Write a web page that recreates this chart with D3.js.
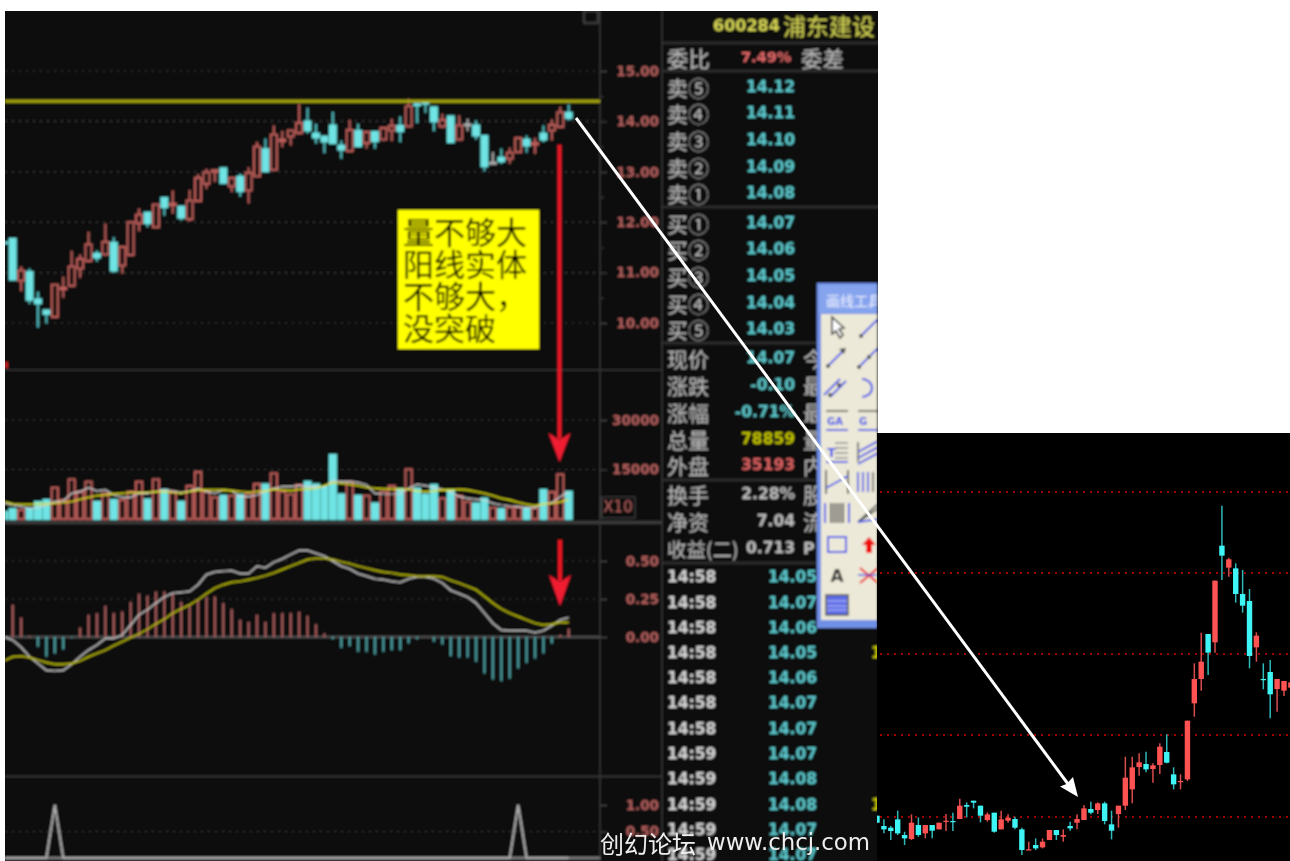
<!DOCTYPE html>
<html><head><meta charset="utf-8">
<script src="https://cdn.jsdelivr.net/npm/d3@7/dist/d3.min.js"></script>
<style>
html,body{margin:0;padding:0;background:#fff;overflow:hidden}
svg{display:block}
text{font-family:"DejaVu Sans",sans-serif}
.cjk{font-family:"Noto Sans CJK SC","Noto Sans",sans-serif}
</style></head><body>
<svg id="c" width="1290" height="861"></svg>
<script>
// ---------- left chart data, index n = -1 .. 66 ----------
const leftOpen=[11.60,11.67,10.84,11.01,10.47,10.25,10.12,10.67,10.74,11.08,11.23,11.37,11.36,11.59,11.14,11.35,11.98,12.19,11.90,12.48,12.34,12.31,12.06,12.42,12.76,13.00,13.07,12.71,12.90,12.63,12.91,13.45,13.04,13.61,13.70,13.77,14.00,13.76,13.70,13.92,13.52,13.41,13.81,13.57,13.79,13.64,13.82,13.91,13.90,14.34,14.40,14.28,13.90,14.10,13.64,13.94,13.92,13.71,13.18,13.28,13.26,13.39,13.64,13.54,13.76,13.82,13.89,14.17];
const leftClose=[11.58,10.86,11.04,10.46,10.39,10.18,10.76,10.70,11.12,11.27,11.56,11.30,11.61,11.04,11.51,12.00,12.15,11.98,12.35,12.30,12.37,12.09,12.43,12.88,12.99,13.03,12.78,12.88,12.62,12.98,13.50,13.01,13.74,13.64,13.82,13.97,13.82,13.68,13.60,13.57,13.44,13.83,13.51,13.79,13.61,13.87,13.91,13.81,14.30,14.32,14.35,14.00,14.03,13.59,13.92,13.94,13.72,13.11,13.18,13.21,13.38,13.67,13.52,13.57,13.64,13.93,14.18,14.07];
const leftHigh=[11.60,11.67,11.12,11.08,10.62,10.25,10.76,10.92,11.43,11.36,11.81,11.44,11.97,11.70,11.51,12.00,12.27,12.19,12.35,12.48,12.63,12.31,12.64,12.95,13.06,13.03,13.07,12.88,12.96,13.09,13.59,13.66,13.92,13.81,13.82,14.35,14.27,13.95,13.70,14.19,13.62,14.03,13.95,13.79,13.79,13.87,14.05,14.10,14.45,14.37,14.40,14.28,14.15,14.10,14.12,14.05,14.02,13.71,13.39,13.46,13.48,13.67,13.72,13.67,13.92,14.04,14.29,14.34];
const leftLow=[11.58,10.86,10.63,10.38,9.91,9.99,10.12,10.50,10.71,10.90,11.21,11.22,11.34,11.00,10.98,11.35,11.82,11.90,11.90,12.13,12.17,12.04,12.02,12.42,12.66,12.80,12.78,12.60,12.51,12.37,12.91,13.01,13.04,13.49,13.52,13.74,13.76,13.56,13.37,13.57,13.26,13.41,13.51,13.46,13.46,13.64,13.61,13.59,13.90,13.97,14.17,13.81,13.87,13.59,13.64,13.81,13.64,13.01,13.17,13.16,13.16,13.39,13.38,13.36,13.59,13.62,13.89,14.02];
const volume=[2200,3030,2730,3230,5150,5760,9490,5760,12000,8280,11300,5250,7780,5760,5760,8280,11300,5960,12000,8790,8280,5250,10000,14240,8280,6560,7070,7070,7270,7780,10600,10500,13840,8280,7470,10300,11300,10500,9800,19400,7470,11300,7070,7070,4750,8280,10000,9090,15050,9290,7470,10300,6260,8790,6970,5250,4750,6260,3430,3030,3530,3530,3330,3230,8790,8180,13530,8280];
const volMA5=[4750,4240,3740,3230,3430,4240,5250,5450,7780,8280,9490,8480,8790,7270,6560,6560,7780,7780,8280,8790,8480,7980,8480,9290,8280,7780,8790,8580,6770,6770,7270,8280,9290,9800,9800,10100,9800,9800,9800,11600,11300,11300,11000,10300,7780,7570,7570,7570,9290,10500,10100,9600,8990,8280,6770,6260,5960,5760,4750,4240,3940,3740,3430,3430,4550,4950,6770,8280];
const volMA10=[5250,4550,4440,4440,4550,4550,4750,4950,5250,5960,6560,7070,7270,7580,7780,7980,7980,8080,8280,8280,7980,7780,8280,8790,8790,8790,8790,8580,8280,8080,8280,8480,8990,8790,8580,8990,9090,9290,10100,11000,10800,10500,10100,9600,9290,9090,9090,8990,8990,8480,8280,8480,8790,8790,8990,8790,8280,7780,7070,6260,5760,5050,4440,4040,4550,4750,5150,5960];
const macdHist=[0,.212,.128,.007,-.064,-.13,-.108,-.082,-.005,.062,.146,.157,.205,.157,.168,.23,.285,.272,.30,.30,.285,.23,.207,.245,.267,.267,.223,.183,.113,.10,.146,.10,.157,.157,.157,.166,.139,.084,.024,-.013,-.071,-.06,-.097,-.097,-.115,-.097,-.086,-.086,-.042,-.013,0,-.031,-.049,-.126,-.135,-.135,-.163,-.24,-.28,-.289,-.274,-.207,-.17,-.141,-.108,-.042,.013,.055];
const macdDIF=[0,-.02,-.068,-.13,-.174,-.219,-.223,-.219,-.179,-.13,-.086,-.053,-.009,-.009,.013,.079,.146,.179,.223,.263,.289,.294,.30,.344,.411,.428,.433,.437,.417,.417,.466,.455,.492,.514,.543,.57,.57,.55,.532,.499,.466,.448,.417,.40,.382,.377,.366,.36,.382,.395,.395,.384,.355,.307,.285,.263,.223,.157,.091,.046,.042,.042,.042,.029,.042,.075,.113,.128];
const macdDEA=[-.157,-.13,-.126,-.135,-.152,-.168,-.179,-.179,-.174,-.157,-.13,-.108,-.086,-.057,-.031,-.004,.02,.051,.086,.117,.157,.185,.212,.245,.285,.322,.344,.36,.366,.377,.389,.404,.422,.444,.466,.488,.51,.517,.517,.51,.494,.483,.466,.453,.439,.428,.422,.411,.406,.40,.40,.40,.395,.373,.355,.333,.311,.267,.223,.185,.157,.135,.113,.091,.079,.084,.097,.095];
const signalIdx=[5,60]; // lower pane spikes (value 1, at candle index n)
const resistance=14.40;
const priceTicks=[10,11,12,13,14,15];
const volTicks=[15000,30000];
const macdTicks=[0,.25,.5];
const lowerTicks=[.5,1];

// ---------- quote panel ----------
const bookLabels=["卖⑤","卖④","卖③","卖②","卖①","买①","买②","买③","买④","买⑤"];
const bookPrices=["14.12","14.11","14.10","14.09","14.08","14.07","14.06","14.05","14.04","14.03"];
const bookRowY=[87,113,140,167,193,223,249,276,303,329];
const statLabels=["现价","涨跌","涨幅","总量","外盘","换手","净资","收益(二)"];
const statValues=["14.07","-0.10","-0.71%","78859","35193","2.28%","7.04","0.713"];
const statColors=["#5cc4c8","#5cc4c8","#5cc4c8","#c0c000","#d86060","#bdbdbd","#bdbdbd","#bdbdbd"];
const statSide=["今","最","最","量","内","股","流","P"];
const statRowY=[358,385,412,439,465,494,521,548];
const tickTimes=["14:58","14:58","14:58","14:58","14:58","14:58","14:58","14:59","14:59","14:59","14:59","14:59"];
const tickPrices=["14.05","14.07","14.06","14.05","14.06","14.07","14.07","14.07","14.08","14.08","14.07","14.07"];
const tickRowY=[577,603,628,653,678,703,729,754,779,805,830,855];
const noteLines=["量不够大","阳线实体","不够大，","没突破"];

// ---------- right daily chart data (arbitrary reading units, dotted levels below) ----------
const rHigh=[3,-8,-28,18,-45,7,-2,-25,-25,-18,8,12,54,43,48,33,13,12,18,7,0,-33,-75,-65,-65,-40,-40,-38,-15,7,35,45,43,45,18,33,180,180,190,195,160,220,247,148,127,288,460,552,548,708,933,777,760,740,683,553,460,470,413,407,470];
const rOpen=[3,-28,-33,-8,-55,-67,-25,-50,-25,-38,-15,-13,-7,35,48,33,-10,12,-38,-12,-7,-38,-100,-85,-92,-70,-40,-60,-28,-18,-10,23,20,40,-23,8,33,82,149,158,143,155,194,127,104,112,340,413,548,523,813,747,745,668,647,508,413,434,383,378,387];
const rClose=[-18,-38,-43,-50,-65,-18,-55,-25,-42,-18,-12,-16,33,30,42,3,7,-45,-8,-3,-33,-100,-98,-95,-75,-40,-55,-55,-35,-7,25,12,40,-13,-42,33,117,148,163,142,154,210,162,97,107,288,413,465,492,708,783,772,668,633,482,543,410,367,413,407,403];
const rLow=[-18,-50,-70,-55,-85,-70,-60,-65,-65,-38,-43,-43,-7,-2,25,-17,-15,-48,-38,-18,-38,-115,-100,-100,-95,-70,-70,-75,-42,-38,-10,7,8,-23,-68,-33,20,40,123,133,102,128,160,82,82,107,300,378,425,492,710,720,642,612,445,465,382,295,315,362,370];
const rLevels=[0,244,487,730,973];

// ---------- scales ----------
const svg=d3.select("#c");
const defs=svg.append("defs");
defs.append("filter").attr("id","soft").attr("x","-2%").attr("y","-2%").attr("width","104%").attr("height","104%")
  .append("feGaussianBlur").attr("stdDeviation",0.8);
defs.append("filter").attr("id","soft2").attr("x","-2%").attr("y","-10%").attr("width","104%").attr("height","120%")
  .append("feGaussianBlur").attr("stdDeviation",0.5);
defs.append("clipPath").attr("id","shot").append("rect").attr("x",5).attr("y",11).attr("width",873).attr("height",850);
defs.append("clipPath").attr("id","plot").append("rect").attr("x",5).attr("y",11).attr("width",595).attr("height",850);
defs.append("clipPath").attr("id","rp").append("rect").attr("x",877).attr("y",433).attr("width",413).attr("height",428);
defs.append("clipPath").attr("id","tool").append("rect").attr("x",817).attr("y",283).attr("width",60).attr("height",345);
defs.append("clipPath").attr("id","side").append("rect").attr("x",800).attr("y",340).attr("width",17).attr("height",225);

const idx=d3.range(-1,67);
const x=d3.scaleLinear().domain([0,66]).range([12.7,568.7]);
const yP=d3.scaleLinear().domain([10,15]).range([323,71]);
const yV=d3.scaleLinear().domain([0,30000]).range([519,420]);
const yM=d3.scaleLinear().domain([0,.5]).range([637,561]);
const yL=d3.scaleLinear().domain([0,1]).range([858,805]);
const xR=d3.scaleLinear().domain([0,59]).range([877,1284]);
const yR=d3.scaleLinear().domain([0,973]).range([816.7,492.3]);

// ---------- left screenshot layer (slightly soft) ----------
const shot=svg.append("g").attr("clip-path","url(#shot)").append("g").attr("filter","url(#soft)");
shot.append("rect").attr("x",0).attr("y",0).attr("width",890).attr("height",870).attr("fill","#101010");

const RED="#c0605c",CY="#6fe4e4",AX="#b05e5c";
const frame="#3a3a3a";
// dotted grids
function hgrid(vals,scale){shot.selectAll(null).data(vals).enter().append("line")
  .attr("x1",5).attr("x2",600).attr("y1",d=>scale(d)).attr("y2",d=>scale(d))
  .attr("stroke","#3c3c3c").attr("stroke-width",1.2).attr("stroke-dasharray","2 5");}
hgrid(priceTicks,yP);hgrid(volTicks,yV);hgrid([.25,.5],yM);hgrid([.5],yL);
// dividers
[[370,1.5],[522.5,3],[776.5,1.5]].forEach(([y,w])=>shot.append("line").attr("x1",5).attr("x2",662).attr("y1",y).attr("y2",y).attr("stroke",frame).attr("stroke-width",w));
shot.append("line").attr("x1",600).attr("x2",600).attr("y1",11).attr("y2",861).attr("stroke",frame).attr("stroke-width",1.5);
shot.append("line").attr("x1",662).attr("x2",662).attr("y1",11).attr("y2",861).attr("stroke",frame).attr("stroke-width",1.5);
shot.append("rect").attr("x",584).attr("y",11).attr("width",14).attr("height",12).attr("fill","none").attr("stroke","#666");
shot.append("rect").attr("x",5).attr("y",362).attr("width",3).attr("height",6).attr("fill","#c02020");

// axes
function axis(scale,vals,fmt,minor){
  const g=shot.append("g").attr("transform","translate(600,0)");
  g.call(d3.axisRight(scale).tickValues(vals).tickFormat(fmt).tickSize(7).tickPadding(0));
  g.select(".domain").remove();
  g.selectAll("line").attr("stroke","#4a4a4a");
  g.selectAll("text").attr("x",59).attr("text-anchor","end").attr("fill",AX).attr("font-size",13.5)
    .attr("font-weight",700).attr("font-family","DejaVu Sans");
  if(minor){const m=shot.append("g").attr("transform","translate(600,0)");
    m.call(d3.axisRight(scale).tickValues(minor).tickFormat("").tickSize(4));
    m.select(".domain").remove();m.selectAll("line").attr("stroke","#3c3c3c");}
}
axis(yP,priceTicks,d3.format(".2f"),[10.5,11.5,12.5,13.5,14.5]);
axis(yV,volTicks,d3.format("d"));
axis(yM,macdTicks,d3.format(".2f"));
axis(yL,lowerTicks,d3.format(".2f"));
shot.append("rect").attr("x",601.5).attr("y",497).attr("width",33.5).attr("height",21).attr("fill","none").attr("stroke","#4a4a4a");
shot.append("text").attr("x",618).attr("y",512).attr("text-anchor","middle").attr("fill",AX).attr("font-size",15).text("X10");

const plot=shot.append("g").attr("clip-path","url(#plot)");
// candles
const kw=plot.append("g");
kw.selectAll("line").data(idx).enter().append("line")
  .attr("x1",n=>x(n)).attr("x2",n=>x(n))
  .attr("y1",n=>yP(leftHigh[n+1])).attr("y2",n=>yP(leftLow[n+1]))
  .attr("stroke",n=>leftClose[n+1]>leftOpen[n+1]?RED:leftClose[n+1]<leftOpen[n+1]?"#55c4c6":"#b0b0b0")
  .attr("stroke-width",1.8);
plot.append("g").selectAll("rect").data(idx).enter().append("rect")
  .attr("x",n=>x(n)-3).attr("width",6)
  .attr("y",n=>yP(Math.max(leftOpen[n+1],leftClose[n+1])))
  .attr("height",n=>Math.max(1,Math.abs(yP(leftOpen[n+1])-yP(leftClose[n+1]))))
  .attr("fill",n=>leftClose[n+1]>leftOpen[n+1]?"#101010":leftClose[n+1]<leftOpen[n+1]?CY:"#b0b0b0")
  .attr("stroke",n=>leftClose[n+1]>leftOpen[n+1]?RED:leftClose[n+1]<leftOpen[n+1]?CY:"#b0b0b0")
  .attr("stroke-width",1.9);
plot.append("line").attr("x1",5).attr("x2",600).attr("y1",yP(resistance)).attr("y2",yP(resistance))
  .attr("stroke","#a8a808").attr("stroke-width",3.2);
// volume
plot.append("g").selectAll("rect").data(idx).enter().append("rect")
  .attr("x",n=>x(n)-3.1).attr("width",6.2)
  .attr("y",n=>yV(volume[n+1])).attr("height",n=>yV(0)-yV(volume[n+1]))
  .attr("fill",n=>leftClose[n+1]>=leftOpen[n+1]?"#101010":CY)
  .attr("stroke",n=>leftClose[n+1]>=leftOpen[n+1]?RED:CY).attr("stroke-width",1.9);
const lineOf=(arr,sc)=>d3.line().x((d,i)=>x(i-1)).y(d=>sc(d))(arr);
plot.append("path").attr("d",lineOf(volMA5,yV)).attr("fill","none").attr("stroke","#d4d4d4").attr("stroke-width",1.2);
plot.append("path").attr("d",lineOf(volMA10,yV)).attr("fill","none").attr("stroke","#e0e010").attr("stroke-width",1.4);
// macd
plot.append("line").attr("x1",5).attr("x2",600).attr("y1",yM(0)).attr("y2",yM(0)).attr("stroke","#666").attr("stroke-width",1.3);
plot.append("g").selectAll("line").data(idx).enter().append("line")
  .attr("x1",n=>x(n)).attr("x2",n=>x(n)).attr("y1",yM(0)).attr("y2",n=>yM(macdHist[n+1]))
  .attr("stroke",n=>macdHist[n+1]>=0?"#c06a6a":"#58b6ba").attr("stroke-width",1.6);
plot.append("path").attr("d",lineOf(macdDIF,yM)).attr("fill","none").attr("stroke","#d0d0d0").attr("stroke-width",1.3);
plot.append("path").attr("d",lineOf(macdDEA,yM)).attr("fill","none").attr("stroke","#c4c400").attr("stroke-width",1.4);
// lower pane signal
plot.append("line").attr("x1",5).attr("x2",600).attr("y1",yL(0)).attr("y2",yL(0)).attr("stroke","#808080").attr("stroke-width",2.4);
plot.append("path").attr("d",lineOf(idx.map(n=>signalIdx.includes(n)?1:0),yL)).attr("fill","none").attr("stroke","#b0b0b0").attr("stroke-width",2);

// note box + red arrows
shot.append("rect").attr("x",398).attr("y",210).attr("width",141).attr("height",139).attr("fill","#ffff00");
shot.selectAll(null).data(noteLines).enter().append("text").attr("class","cjk")
  .attr("x",403).attr("y",(d,i)=>230+32*i).attr("dominant-baseline","central")
  .attr("font-size",31).attr("fill","#000").text(d=>d);
[[145,433,462,559.5],[540,575,606,560]].forEach(([t,b,tip,cx])=>{
  shot.append("line").attr("x1",cx).attr("x2",cx).attr("y1",t).attr("y2",b+6).attr("stroke","#f01828").attr("stroke-width",3.8);
  shot.append("path").attr("d",`M${cx-11},${b}L${cx},${b+7}L${cx+11},${b}L${cx},${tip}Z`).attr("fill","#f01a30");
});

// quote panel
[43,71,207,343,480,563].forEach(y=>shot.append("line").attr("x1",662).attr("x2",880).attr("y1",y).attr("y2",y).attr("stroke","#3c3c3c").attr("stroke-width",1.5));
const T=(s,px,py,size,fill,cls,weight,anchor)=>shot.append("text").attr("class",cls||null).attr("x",px).attr("y",py)
  .attr("dominant-baseline","central").attr("font-size",size).attr("fill",fill).attr("font-weight",weight||400).attr("text-anchor",anchor||"start").text(s);
T("600284",713,25,16,"#d4d454",null,700);
T("浦东建设",783,25,23,"#d4d454","cjk");
T("委比",667,57,21.5,"#bcbcbc","cjk");
T("7.49%",741,57,14.5,"#e06868",null,700);
T("委差",801,57,21.5,"#bcbcbc","cjk");
bookLabels.forEach((s,i)=>{T(s,667,bookRowY[i],21,"#bcbcbc","cjk");T(bookPrices[i],795,bookRowY[i],15.5,"#5cc8cc",null,700,"end");});
statLabels.forEach((s,i)=>{
  const l=T(s,667,statRowY[i],21,"#bcbcbc","cjk");
  if(i===7)l.attr("font-size",19.5);
  T(statValues[i],795,statRowY[i],15.5,statColors[i],null,700,"end");
  const c=statSide[i]==="P";
  T(statSide[i],803,statRowY[i],c?16:21,"#bcbcbc",c?null:"cjk",c?700:400).attr("clip-path","url(#side)");
});
tickTimes.forEach((s,i)=>{T(s,667,tickRowY[i],15.5,"#d4d4d4",null,700);T(tickPrices[i],817,tickRowY[i],15.5,"#5cc8cc",null,700,"end");});
[577,653,805].forEach(y=>T("1",871,y,15.5,"#c8c800",null,700));

// drawing tool palette
const tool=shot.append("g").attr("clip-path","url(#tool)");
tool.append("rect").attr("x",817).attr("y",283).attr("width",70).attr("height",345).attr("fill","#6f8fe6");
tool.append("rect").attr("x",819).attr("y",285).attr("width",70).attr("height",28).attr("fill","#86a4ee");
tool.append("rect").attr("x",821).attr("y",314).attr("width",70).attr("height",306).attr("fill","#ece9d8");
tool.append("text").attr("class","cjk").attr("x",826).attr("y",300).attr("dominant-baseline","central").attr("font-size",14).attr("fill","#eef2ff").text("画线工具");
const B="#3f4fe8",K="#444";
const toolRows=[328,358,388,420,452,482,513,545,575,605];
const L=(x1,y1,x2,y2,c,w)=>tool.append("line").attr("x1",x1).attr("y1",y1).attr("x2",x2).attr("y2",y2).attr("stroke",c||B).attr("stroke-width",w||1.8);
const dot=(cx,cy)=>tool.append("circle").attr("cx",cx).attr("cy",cy).attr("r",2).attr("fill",K);
const cA=837,cB=869;
const icons=[
 ()=>{tool.append("path").attr("d",`M${cA-5},${toolRows[0]-11}L${cA-5},${toolRows[0]+6}L${cA-1},${toolRows[0]+3}L${cA+3},${toolRows[0]+10}L${cA+6},${toolRows[0]+7}L${cA+2},${toolRows[0]+1}L${cA+7},${toolRows[0]}Z`).attr("fill","#fff").attr("stroke","#333").attr("stroke-width",1.6);
      L(cB-8,toolRows[0]+8,cB+8,toolRows[0]-8);dot(cB-8,toolRows[0]+8);},
 ()=>{L(cA-9,toolRows[1]+8,cA+7,toolRows[1]-8);dot(cA-9,toolRows[1]+8);tool.append("path").attr("d",`M${cA+9},${toolRows[1]-10}l-7,1l5,5Z`).attr("fill",K);
      L(cB-10,toolRows[1]+9,cB+10,toolRows[1]-11);dot(cB-10,toolRows[1]+9);dot(cB,toolRows[1]-1);},
 ()=>{L(cA-13,toolRows[2]+7,cA+3,toolRows[2]-9);L(cA-7,toolRows[2]+9,cA+9,toolRows[2]-7);dot(cA-7,toolRows[2]+7);dot(cA+2,toolRows[2]-3);
      tool.append("path").attr("d",`M${cB-7},${toolRows[2]-9}a10,9 0 0 1 0,18`).attr("fill","none").attr("stroke",B).attr("stroke-width",2);},
 ()=>{L(cA-11,toolRows[3]-9,cA+11,toolRows[3]-9,K,1.4);L(cA-11,toolRows[3]+10,cA+11,toolRows[3]+10,B,1.8);tool.append("text").attr("x",cA-10).attr("y",toolRows[3]+5).attr("font-size",10).attr("font-weight",700).attr("fill",B).text("GA");
      L(cB-11,toolRows[3]-9,cB+11,toolRows[3]-9,K,1.4);L(cB-11,toolRows[3]+10,cB+11,toolRows[3]+10,B,1.8);tool.append("text").attr("x",cB-10).attr("y",toolRows[3]+5).attr("font-size",10).attr("font-weight",700).attr("fill",B).text("G");},
 ()=>{[-9,-4,1,6].forEach(d=>L(cA-2,toolRows[4]+d,cA+11,toolRows[4]+d,"#888",1.4));L(cA-11,toolRows[4]+10,cA+11,toolRows[4]+10);tool.append("text").attr("x",cA-10).attr("y",toolRows[4]+5).attr("font-size",13).attr("font-weight",700).attr("fill",B).text("T");
      L(cB-11,toolRows[4]-10,cB-11,toolRows[4]+10,K,1.4);[-5,1,7].forEach(d=>L(cB-11,toolRows[4]+d+5,cB+11,toolRows[4]+d-7));},
 ()=>{L(cA-11,toolRows[5]-12,cA-11,toolRows[5]+12,K,1.6);L(cA+11,toolRows[5]-12,cA+11,toolRows[5]+12,K,1.6);L(cA-11,toolRows[5]+6,cA+11,toolRows[5]-6);
      [-11,-6,-1,4,9].forEach(d=>L(cB+d,toolRows[5]-10,cB+d,toolRows[5]+10,d<0?B:"#666",1.8));},
 ()=>{[-12,12].forEach(d=>L(cA+d,toolRows[6]-10,cA+d,toolRows[6]+10,B,2));[-6,-3,0,3,6].forEach(d=>L(cA+d,toolRows[6]-10,cA+d,toolRows[6]+10,"#555",2));
      [-3,2].forEach(d=>L(cB-11,toolRows[6]+9,cB+11,toolRows[6]+d-8,K,1.6));L(cB-11,toolRows[6]+9,cB+11,toolRows[6]+6);},
 ()=>{tool.append("rect").attr("x",cA-9).attr("y",toolRows[7]-8).attr("width",18).attr("height",15).attr("fill","none").attr("stroke",B).attr("stroke-width",2);
      tool.append("path").attr("d",`M${cB},${toolRows[7]-8}l7,8h-4v8h-6v-8h-4Z`).attr("fill","#f01010");},
 ()=>{tool.append("text").attr("x",cA).attr("y",toolRows[8]+7).attr("text-anchor","middle").attr("font-size",17).attr("font-weight",700).attr("fill","#333").text("A");
      L(cB-9,toolRows[8]-7,cB+9,toolRows[8]+8,"#f02020",2);L(cB+9,toolRows[8]-7,cB-9,toolRows[8]+8,"#f02020",2);L(cB-11,toolRows[8],cB+11,toolRows[8],B,1.4);},
 ()=>{tool.append("rect").attr("x",cA-11).attr("y",toolRows[9]-10).attr("width",22).attr("height",20).attr("fill","#5a6ae8").attr("stroke","#666").attr("stroke-width",2);
      [-4,1,5].forEach(d=>L(cA-10,toolRows[9]+d,cA+10,toolRows[9]+d,"#c9cdf5",1));}
];
icons.forEach(f=>f());

// ---------- right sharp daily chart ----------
const rp=svg.append("g").attr("clip-path","url(#rp)");
rp.append("rect").attr("x",877).attr("y",433).attr("width",413).attr("height",428).attr("fill","#000");
rp.selectAll(".lv").data(rLevels).enter().append("line").attr("class","lv")
  .attr("x1",880).attr("x2",1290).attr("y1",d=>Math.round(yR(d))).attr("y2",d=>Math.round(yR(d)))
  .attr("stroke","#a00000").attr("stroke-width",2).attr("stroke-dasharray","2 5");
const rIdx=d3.range(rHigh.length);
const isUp=i=>rClose[i]>rOpen[i];
rp.append("g").selectAll("line").data(rIdx).enter().append("line")
  .attr("x1",i=>xR(i)).attr("x2",i=>xR(i)).attr("y1",i=>yR(rHigh[i])).attr("y2",i=>yR(rLow[i]))
  .attr("stroke",i=>isUp(i)?"#d84c4c":"#2fb8b8").attr("stroke-width",1.5);
rp.append("g").selectAll("rect").data(rIdx).enter().append("rect")
  .attr("x",i=>xR(i)-2.7).attr("width",5.4)
  .attr("y",i=>yR(Math.max(rOpen[i],rClose[i])))
  .attr("height",i=>Math.max(1.2,Math.abs(yR(rOpen[i])-yR(rClose[i]))))
  .attr("fill",i=>isUp(i)?"#ff5252":"#3ff4f4");

// white connector arrow
svg.append("line").attr("x1",576).attr("y1",118).attr("x2",1068).attr("y2",784).attr("stroke","#fff").attr("stroke-width",3);
svg.append("path").attr("d","M1078,797L1060,786.5L1066.5,784L1073,777Z").attr("fill","#fff");

// watermark
const wm=svg.append("g").attr("filter","url(#soft2)");
wm.append("text").attr("class","cjk").attr("x",600).attr("y",842).attr("dominant-baseline","central").attr("font-size",24).attr("fill","#eee").text("创幻论坛");
wm.append("text").attr("x",707).attr("y",842).attr("dominant-baseline","central").attr("font-size",23).attr("fill","#eee")
  .attr("textLength",163).attr("lengthAdjust","spacingAndGlyphs").text("www.chcj.com");
</script>
</body></html>
